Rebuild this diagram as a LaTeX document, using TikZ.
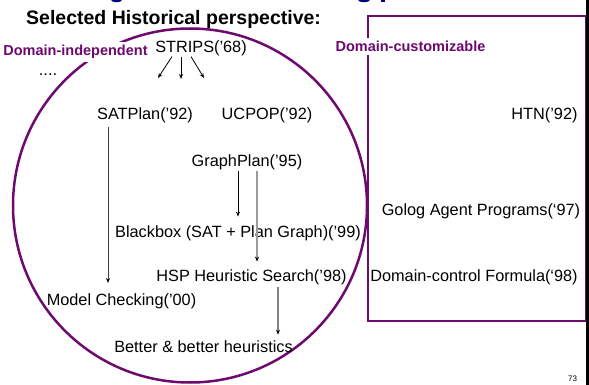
\documentclass[tikz,border=0pt]{standalone}
\usepackage{fontspec}
\setmainfont{Liberation Sans}
\usetikzlibrary{arrows.meta}
\definecolor{plum}{RGB}{110,10,110}
\definecolor{titleblue}{RGB}{0,0,128}
\definecolor{paleline}{RGB}{155,155,155}
\definecolor{midline}{RGB}{130,130,130}
\definecolor{darkline}{RGB}{60,60,60}
\begin{document}
\begin{tikzpicture}[x=1pt,y=-1pt,
  lbl/.style={inner sep=0pt, font=\fontsize{16.3}{19}\selectfont, anchor=base},
  grp/.style={inner sep=3pt, fill=white, font=\bfseries\fontsize{14.5}{17}\selectfont, text=plum, anchor=base},
  arr/.style={line width=0.8pt, -{Stealth[length=5pt,width=4pt,color=black]}},
  ]
\useasboundingbox (0,0) rectangle (589,385);
\clip (0,0) rectangle (589,385);

% lower ends of the heading letters running off the top edge
\fill[titleblue] (116.5,-0.8) ellipse [x radius=6pt, y radius=3pt];
\fill[titleblue] (364,-0.8) ellipse [x radius=6.5pt, y radius=3pt];
\fill[titleblue] (380.5,0) rectangle (384.5,2.5);

% the two families of planners
\draw[plum, line width=2.5pt] (190,205.5) circle [radius=177pt];
\draw[plum, line width=1.6pt] (368,16) rectangle (586,321);
\draw[line width=2.5pt] (587.5,0) -- (587.5,385);

% headings
\node[font=\bfseries\fontsize{19.5}{23}\selectfont, inner sep=0pt, anchor=base west] (head) at (26,25) {Selected Historical perspective:};
\node[grp] (indep) at (75.5,56) {Domain-independent};
\node[grp] (custom) at (410.5,52) {Domain-customizable};

% domain-independent planners
\node[lbl] (strips) at (201,53) {STRIPS(’68)};
\node[lbl] (dots) at (48,76) {....};
\node[lbl] (sat) at (145,120) {SATPlan(’92)};
\node[lbl] (ucpop) at (267,120) {UCPOP(’92)};
\node[lbl] (gp) at (247,167) {GraphPlan(’95)};
\node[lbl] (bb) at (238,237) {Blackbox (SAT + Plan Graph)(’99)};
\node[lbl] (hsp) at (251.5,281) {HSP Heuristic Search(’98)};
\node[lbl] (mc) at (121.5,305) {Model Checking(’00)};
\node[lbl] (better) at (203.5,352) {Better \& better heuristics};

% domain-customizable planners
\node[lbl] (htn) at (544.5,120) {HTN(’92)};
\node[lbl] (golog) at (481,215) {Golog Agent Programs(‘97)};
\node[lbl] (dcf) at (474,281) {Domain-control Formula(‘98)};

% page number
\node[inner sep=0pt, font=\fontsize{8}{9}\selectfont, anchor=base] (pg) at (572.5,381) {73};

% connectors
\coordinate (e1) at (158,78);
\coordinate (e2) at (181,79);
\coordinate (e3) at (204,78);
\draw[arr] ([xshift=-29pt]strips.south) -- (e1);
\draw[arr] ([xshift=-20pt]strips.south) -- (e2);
\draw[arr] ([xshift=-10pt]strips.south) -- (e3);

\draw[arr, draw=darkline, shorten <=3.5pt, shorten >=10pt]
  ([xshift=-37pt]sat.south) -- ([xshift=-37pt]sat.south |- mc.north);
\draw[arr, shorten <=0.6pt, shorten >=8.4pt]
  ([xshift=-9pt]gp.south) -- ([xshift=-9pt]gp.south |- bb.north);
\draw[arr, draw=paleline, line width=2pt, shorten <=0.6pt, shorten >=7.4pt]
  ([xshift=10pt]gp.south) -- ([xshift=10pt]gp.south |- hsp.north);
\draw[arr, draw=midline, line width=1.5pt, shorten <=2.6pt, shorten >=5.3pt]
  ([xshift=26.5pt]hsp.south) -- ([xshift=26.5pt]hsp.south |- better.north);
\end{tikzpicture}
\end{document}
